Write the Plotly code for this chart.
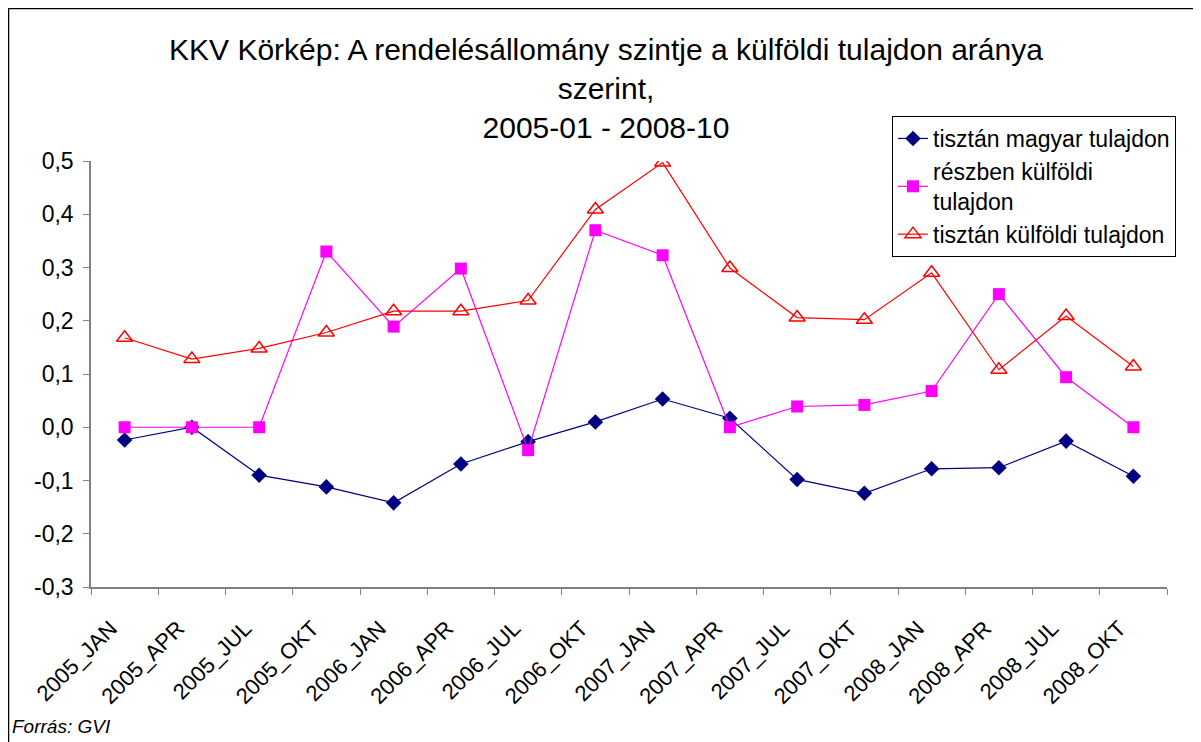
import plotly.graph_objects as go

# Adatok
honapok = ["2005_JAN", "2005_APR", "2005_JUL", "2005_OKT",
           "2006_JAN", "2006_APR", "2006_JUL", "2006_OKT",
           "2007_JAN", "2007_APR", "2007_JUL", "2007_OKT",
           "2008_JAN", "2008_APR", "2008_JUL", "2008_OKT"]

magyar = [-0.024, 0.0, -0.090, -0.112, -0.142, -0.069, -0.027, 0.010,
          0.053, 0.017, -0.098, -0.124, -0.078, -0.076, -0.026, -0.092]
reszben = [0.0, 0.0, 0.0, 0.330, 0.189, 0.298, -0.043, 0.370,
           0.323, 0.0, 0.039, 0.042, 0.068, 0.250, 0.094, 0.0]
kulfoldi = [0.168, 0.128, 0.148, 0.178, 0.218, 0.218, 0.238, 0.409,
            0.497, 0.299, 0.206, 0.202, 0.290, 0.108, 0.209, 0.114]

y_ticks = [0.5, 0.4, 0.3, 0.2, 0.1, 0.0, -0.1, -0.2, -0.3]
y_labels = ["0,5", "0,4", "0,3", "0,2", "0,1", "0,0", "-0,1", "-0,2", "-0,3"]

FONT = "Liberation Sans, Arial, sans-serif"

# a böngésző 8 px-es body margója miatt minden eltolva
OFF = 8
W, H = 1193, 734
L, T = 91 - OFF, 161 - OFF
pw, ph = 1076, 426
R, B = W - L - pw, H - T - ph


def px_x(x):
    # képernyő pixel -> paper
    return (x - OFF - L) / pw


def px_y(y):
    return (H - B - (y - OFF)) / ph


fig = go.Figure()

fig.add_trace(go.Scatter(
    x=honapok, y=magyar, name="tisztán magyar tulajdon", mode="lines+markers",
    line=dict(color="#000080", width=1.2),
    marker=dict(symbol="diamond", size=12, color="#000080")))

fig.add_trace(go.Scatter(
    x=honapok, y=reszben, name="részben külföldi<br>tulajdon", mode="lines+markers",
    line=dict(color="#FF00FF", width=1.2),
    marker=dict(symbol="square", size=12, color="#FF00FF")))

fig.add_trace(go.Scatter(
    x=honapok, y=kulfoldi, name="tisztán külföldi tulajdon", mode="lines+markers",
    line=dict(color="#FF0000", width=1.2),
    marker=dict(symbol="triangle-up-open", size=14, color="#FF0000",
                line=dict(width=1.5, color="#FF0000"))))

fig.update_layout(
    width=W, height=H,
    margin=dict(l=L, r=R, t=T, b=B, autoexpand=False),
    paper_bgcolor="white", plot_bgcolor="white",
    font=dict(family=FONT, size=22, color="black"),
    title=dict(
        text="KKV Körkép: A rendelésállomány szintje a külföldi tulajdon aránya<br>"
             "szerint,<br>2005-01 - 2008-10",
        x=(606 - OFF) / W, xanchor="center", y=1 - 52 / H, yanchor="top",
        font=dict(family=FONT, size=30, color="black")),
    legend=dict(
        x=px_x(892), y=px_y(116), xanchor="left", yanchor="top",
        bgcolor="white", bordercolor="black", borderwidth=1,
        font=dict(family=FONT, size=23, color="black"),
        tracegroupgap=0),
    showlegend=True,
)

fig.update_xaxes(
    type="category", showgrid=False, zeroline=False, automargin=False,
    showline=True, linecolor="#808080", linewidth=1.5,
    ticks="outside", ticklen=6, tickcolor="#808080", tickson="boundaries",
    tickangle=-45, ticklabelshift=-14, ticklabelstandoff=18,
    tickfont=dict(family=FONT, size=22, color="black"),
    range=[-0.5, len(honapok) - 0.5])

fig.update_yaxes(
    range=[-0.3, 0.5], showgrid=False, zeroline=False, automargin=False,
    showline=True, linecolor="#808080", linewidth=1.5,
    ticks="outside", ticklen=6, tickcolor="#808080", ticklabelstandoff=5,
    tickvals=y_ticks, ticktext=y_labels,
    tickfont=dict(family=FONT, size=23, color="black"))

# külső keret
fig.add_shape(type="rect", xref="paper", yref="paper",
              x0=px_x(8.5), x1=px_x(1197), y0=px_y(770), y1=px_y(8.5),
              line=dict(color="black", width=1.5), fillcolor="rgba(0,0,0,0)",
              layer="below")

fig.add_annotation(text="<i>Forrás: GVI</i>", xref="paper", yref="paper",
                   x=px_x(10), y=px_y(739), xanchor="left", yanchor="bottom",
                   showarrow=False, font=dict(family=FONT, size=19, color="black"))

fig.write_html("out.html")
